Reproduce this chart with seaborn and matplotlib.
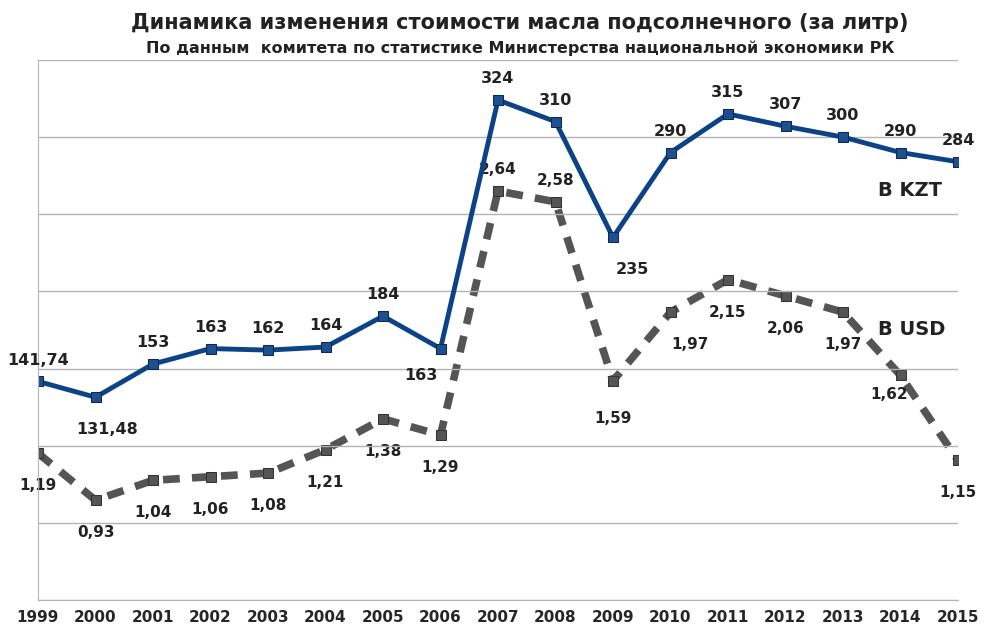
import matplotlib.pyplot as plt
import seaborn as sns
import pandas as pd

years = list(range(1999, 2016))
kzt = [141.74, 131.48, 153, 163, 162, 164, 184, 163, 324, 310, 235, 290, 315, 307, 300, 290, 284]
kzt_labels = ['141,74', '131,48', '153', '163', '162', '164', '184', '163', '324', '310', '235', '290', '315', '307', '300', '290', '284']
usd = [1.19, 0.93, 1.04, 1.06, 1.08, 1.21, 1.38, 1.29, 2.64, 2.58, 1.59, 1.97, 2.15, 2.06, 1.97, 1.62, 1.15]
usd_labels = ['1,19', '0,93', '1,04', '1,06', '1,08', '1,21', '1,38', '1,29', '2,64', '2,58', '1,59', '1,97', '2,15', '2,06', '1,97', '1,62', '1,15']

df = pd.DataFrame({'year': years, 'kzt': kzt, 'usd': usd})

sns.set_style('white')
plt.rcParams['font.family'] = ['DejaVu Sans']
fig = plt.figure(figsize=(10, 6.44), dpi=100)
ax = fig.add_axes([0.038, 0.068, 0.92, 0.839])
ax2 = ax.twinx()

for y in range(0, 351, 50):
    ax.axhline(y, color='#b3b3b3', lw=1, zorder=0)

sns.lineplot(data=df, x='year', y='usd', ax=ax2, color='#555555', lw=5.5,
             linestyle=(0, (2.2, 1.6)), marker='s', markersize=7,
             markerfacecolor='#555555', markeredgecolor='#333333')
sns.lineplot(data=df, x='year', y='kzt', ax=ax, color='#0b4386', lw=3.5,
             marker='s', markersize=7, markerfacecolor='#1e4f8f', markeredgecolor='#0a2a55')
ax.set_zorder(ax2.get_zorder() + 1)
ax.patch.set_visible(False)

ax.set_xlim(1999, 2015)
ax.set_ylim(0, 350)
ax2.set_ylim(0.377, 3.365)
for a in (ax, ax2):
    a.set_yticks([])
    a.set_ylabel('')
    a.set_xlabel('')
    for s in a.spines.values():
        s.set_visible(False)
ax.spines['bottom'].set_visible(True)
ax.spines['bottom'].set_color('#b3b3b3')
ax.spines['left'].set_visible(True)
ax.spines['left'].set_color('#b3b3b3')
ax.set_xticks(years)
ax.set_xticklabels([str(y) for y in years], fontweight='bold', fontsize=11)
ax.tick_params(axis='x', length=5, color='#b3b3b3', pad=2)

kzt_off = {0: (0, 10), 1: (8, -18), 6: (0, 10), 7: (-14, -14), 10: (14, -18),
           14: (0, 10), 15: (0, 10)}
for i, (x, v, t) in enumerate(zip(years, kzt, kzt_labels)):
    dx, dy = kzt_off.get(i, (0, 10))
    ax.annotate(t, (x, v), xytext=(dx, dy), textcoords='offset points',
                ha='center', va='bottom' if dy > 0 else 'top',
                fontsize=11.5, fontweight='bold', color='#222222')

usd_off = {8: (0, 10), 9: (0, 10), 10: (0, -22), 11: (14, -18), 12: (0, -18),
           13: (0, -18), 14: (0, -18), 15: (-8, -8), 16: (0, -18)}
for i, (x, v, t) in enumerate(zip(years, usd, usd_labels)):
    dx, dy = usd_off.get(i, (0, -18))
    ax2.annotate(t, (x, v), xytext=(dx, dy), textcoords='offset points',
                 ha='center', va='bottom' if dy > 0 else 'top',
                 fontsize=11, fontweight='bold', color='#222222')

ax.text(2013.6, 262, 'В KZT', fontsize=14, fontweight='bold', color='#222222')
ax.text(2013.6, 172, 'В USD', fontsize=14, fontweight='bold', color='#222222')

fig.text(0.52, 0.965, 'Динамика изменения стоимости масла подсолнечного (за литр)',
         ha='center', va='center', fontsize=15, fontweight='bold', color='#222222')
fig.text(0.52, 0.925, 'По данным  комитета по статистике Министерства национальной экономики РК',
         ha='center', va='center', fontsize=11.5, fontweight='bold', color='#222222')

fig.savefig('out.png', dpi=100)
